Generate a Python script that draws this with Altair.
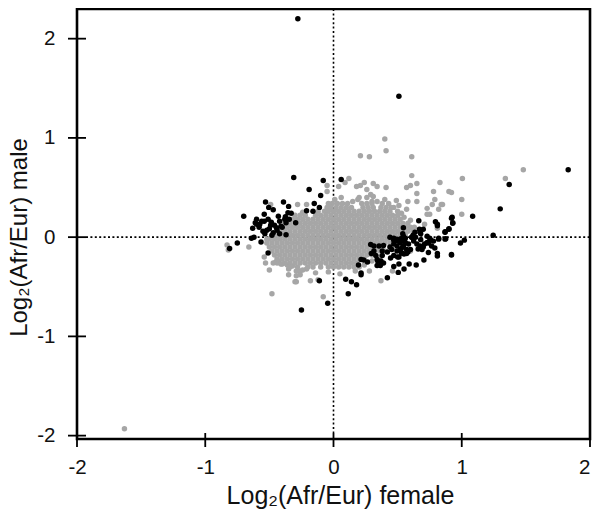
import altair as alt
import pandas as pd

# Log2(Afr/Eur) values: female, male
gray_outlier_female = [-1.63,-.83,-.82,-.66,-.54,-.53,-.50,-.48,-.08,.37,.05,-.35,-.29,-.26,-.29,-.26,-.30,-.29,-.18,-.14,-.12,-.21,-.45,-.43,-.36,-.35,-.32,-.47,-.44,-.41,-.04,.17,.28,.46,.60,
 1.48,1.34,1.005,.83,.90,.92,1.00,1.00,.40,.21,.28,.41,.61,.61,.12,-.05,.04,.09,.18,.21,.24,.31,.34,.41,.26,.57,.60,.65,.65,.65,.58,.57,.78,.79,.77,.84,.85,.73,.82,.73,.75,.71,.81,.01,-.05,.06,.29,.31,.19,.26,.30,.40,.49,.51,-.21,-.28,-.49,
 -.40,-.28,-.24,-.10,.20,.24,.30,.36,.15,.20,.34,.47,.53,.55,.60,-.12,-.24]
gray_outlier_male = [-1.93,-.08,-.13,-.10,-.20,-.26,-.33,-.57,-.60,-.44,-.37,-.38,-.34,-.34,-.39,-.38,-.45,-.45,-.44,-.36,-.43,-.32,-.25,-.24,-.28,-.32,-.29,-.26,-.26,-.27,-.35,-.34,-.34,-.34,-.14,
 .68,.59,.59,.55,.46,.45,.38,.23,.99,.82,.81,.87,.81,.62,.59,.52,.51,.55,.51,.52,.55,.54,.51,.50,.48,.50,.52,.54,.44,.36,.36,.28,.46,.38,.33,.33,.33,.29,.28,.23,.23,.13,.09,.38,.46,.40,.43,.41,.38,.40,.36,.38,.37,.32,.33,.33,.33,
 -.27,-.30,-.33,-.30,-.30,-.28,-.24,-.20,.36,.40,.36,.30,.24,.20,.17,.26,.25]

gray_cloud = {
 .34: [-.04,-.01,.03,.07,.11,.22,.26,.30,.38,.43],
 .30: [-.05,-.02,.02,.06,.10,.14,.23,.27,.31,.37,.41,.45],
 .26: [-.07,-.04,0,.04,.08,.12,.16,.20,.24,.28,.32,.36,.40,.44,.50],
 .22: [-.30,-.26,-.22,-.14,-.10,-.06,-.02,.02,.06,.10,.14,.18,.22,.26,.30,.34,.38,.42,.46,.50],
 .18: [-.36,-.32,-.28,-.24,-.20,-.16,-.12,-.08,-.04,0,.04,.08,.12,.16,.20,.24,.28,.32,.36,.40,.44,.48,.52],
 .14: [-.38,-.34,-.30,-.26,-.22,-.18,-.14,-.10,-.06,-.02,.02,.06,.10,.14,.18,.22,.26,.30,.34,.38,.42,.46,.50,.54,.58],
 .10: [-.40,-.36,-.32,-.28,-.24,-.20,-.16,-.12,-.08,-.04,0,.04,.08,.12,.16,.20,.24,.28,.32,.36,.40,.44,.48,.52,.56,.60,.63],
 .06: [-.42,-.38,-.34,-.30,-.26,-.22,-.18,-.14,-.10,-.06,-.02,.02,.06,.10,.14,.18,.22,.26,.30,.34,.38,.42,.46,.50,.54,.58,.62],
 .02: [-.48,-.44,-.40,-.36,-.32,-.28,-.24,-.20,-.16,-.12,-.08,-.04,0,.04,.08,.12,.16,.20,.24,.28,.32,.36,.40,.44,.48,.52,.56],
 -.02: [-.52,-.50,-.46,-.42,-.38,-.34,-.30,-.26,-.22,-.18,-.14,-.10,-.06,-.02,.02,.06,.10,.14,.18,.22,.26,.30,.34,.38,.42,.46,.50],
 -.06: [-.52,-.48,-.44,-.40,-.36,-.32,-.28,-.24,-.20,-.16,-.12,-.08,-.04,0,.04,.08,.12,.16,.20,.24,.28,.32,.36,.40,.44],
 -.10: [-.50,-.46,-.42,-.38,-.34,-.30,-.26,-.22,-.18,-.14,-.10,-.06,-.02,.02,.06,.10,.14,.18,.22,.26,.30,.34,.38],
 -.14: [-.48,-.44,-.40,-.36,-.32,-.28,-.24,-.20,-.16,-.12,-.08,-.04,0,.04,.08,.12,.16,.20,.24,.28,.32,.36,.40],
 -.18: [-.46,-.42,-.38,-.34,-.30,-.26,-.22,-.18,-.14,-.10,-.06,-.02,.02,.06,.10,.14,.18,.22,.26,.30],
 -.22: [-.44,-.40,-.36,-.32,-.28,-.24,-.20,-.16,-.12,-.08,-.04,0,.04,.08,.12,.16,.20,.24],
 -.26: [-.38,-.34,-.30,-.26,-.22,-.18,-.14,-.10,-.06,-.02,.02,.06,.10,.14,.18],
 -.30: [-.34,-.20,-.16,-.04,0,.04,.08,.12,.16],
}

black_female = [-.278,.51,1.83,1.37,1.30,1.085,1.245,1.02,.99,.92,.93,.90,.87,.87,.82,.92,.81,
 -.31,-.08,.06,-.19,-.10,-.15,-.11,-.16,-.21,-.70,-.53,-.39,-.35,-.505,-.47,-.54,-.43,-.355,-.375,-.33,-.60,-.61,-.63,
 -.54,-.575,-.51,-.485,-.42,-.41,-.445,-.50,-.535,-.47,-.42,-.37,-.295,-.345,-.37,-.64,-.62,-.565,-.75,-.81,-.51,
 -.25,-.045,.115,-.11,.095,.14,.18,.215,.215,.195,.42,.505,.55,.59,.645,.705,.92,.47,.51,
 .34,.365,.39,.345,.265,.235,.215,.29,.315,.355,.39,.295,.33,.38,.315,.38,.34,.37,
 .545,.665,.795,.81,.87,.90,.93,.925,.82,.875,.81,.81,.79,.765,.74,.69,.65,.625,.68,.73,.75,.78,.74,.64,.675,.70,.73,.675,.71,.61,
 .44,.47,.495,.54,.56,.52,.56,.585,.47,.495,.535,.57,.455,.495,.535,.57,.47,.51,.445,.545,.525,.60,.545,.52,.61,.635,.67,.68,
 -.58,-.56,-.52,-.49,-.46,-.44,-.40,-.38,-.60,-.55,-.48,.50,.53,.55,.58,.50,.52,.55,.47,.44,.42,.66,.70,.76,.62]
black_male = [2.2,1.42,.68,.53,.285,.21,.02,-.03,-.06,.19,.14,.08,.05,-.02,-.02,-.18,.13,
 .60,.57,.58,.48,.42,.34,.30,.26,.265,.21,.355,.355,.31,.30,.275,.23,.21,.245,.205,.24,.18,.145,.09,
 .16,.13,.18,.15,.16,.11,.095,.085,.035,.045,.035,.025,.145,.18,.145,-.01,0,-.05,-.06,-.115,-.16,
 -.735,-.665,-.57,-.44,-.425,-.45,-.48,-.36,-.38,-.28,-.41,-.355,-.32,-.27,-.28,-.23,-.175,-.295,-.27,
 -.285,-.285,-.26,-.24,-.25,-.23,-.225,-.075,-.09,-.09,-.085,-.165,-.185,-.185,-.14,-.14,-.225,-.24,
 .095,.165,.155,.115,.055,.085,.145,.20,-.01,-.015,-.165,-.19,-.11,-.09,-.155,-.125,-.07,-.04,-.025,.01,-.01,-.04,-.06,0,.05,.08,-.055,-.09,-.07,0,
 0,-.01,-.02,.035,-.01,-.055,-.055,-.07,-.07,-.09,-.105,-.125,-.125,-.14,-.16,-.165,-.185,-.20,-.21,.01,-.015,-.125,-.09,-.125,0,.05,.08,.035,
 .10,.16,.07,.12,.12,.07,.10,.18,.13,.06,.02,-.04,-.16,-.03,-.15,-.20,-.05,-.17,-.03,-.10,-.15,-.12,-.10,-.03,.02]

tick_values = [-2,-1,0,1,2]
x_domain = [-2,2]
y_domain = [-2.034,2.299]

gf = list(gray_outlier_female); gm = list(gray_outlier_male)
for m, fs in gray_cloud.items():
    gf += fs; gm += [m]*len(fs)
gray = pd.DataFrame({"f":gf,"m":gm})
black = pd.DataFrame({"f":black_female,"m":black_male})
ticks = pd.DataFrame({"t":tick_values})
zero = pd.DataFrame({"z":[0]})

FONT = "Liberation Sans"
xs = alt.Scale(domain=x_domain, nice=False, zero=False)
ys = alt.Scale(domain=y_domain, nice=False, zero=False)
x_axis = alt.Axis(values=tick_values, ticks=False, domain=False, grid=False, labelExpr="toString(datum.value)",
    labelAlign=alt.expr("datum.value == 2 ? 'right' : 'center'"),
    labelFont=FONT, labelFontSize=20.5, labelColor="#111", labelPadding=18, labelFlush=False,
    title="Log₂(Afr/Eur) female", titleFont=FONT, titleFontSize=25, titleFontWeight="normal", titleColor="#111",
    titleX=263, titleY=64, titleBaseline="alphabetic", titleAlign="center", titleAnchor="middle")
y_axis = alt.Axis(values=tick_values, ticks=False, domain=False, grid=False, labelExpr="toString(datum.value)",
    labelFont=FONT, labelFontSize=20.5, labelColor="#111", labelPadding=22, labelFlush=False,
    title="Log₂(Afr/Eur) male", titleFont=FONT, titleFontSize=24, titleFontWeight="normal", titleColor="#111",
    titleX=-51, titleY=228, titleBaseline="alphabetic", titleAlign="center", titleAnchor="middle")

h_zero = alt.Chart(zero).mark_rule(color="black", strokeWidth=1.6, strokeDash=[2,2.4]).encode(y=alt.Y("z:Q",scale=ys,axis=y_axis), x=alt.value(9), x2=alt.value(513))
v_zero = alt.Chart(zero).mark_rule(color="black", strokeWidth=1.6, strokeDash=[2,2.4]).encode(x=alt.X("z:Q",scale=xs,axis=x_axis), y=alt.value(0), y2=alt.value(424))
g = alt.Chart(gray).mark_circle(color="#a6a6a6", size=30, opacity=1).encode(x=alt.X("f:Q",scale=xs), y=alt.Y("m:Q",scale=ys))
b = alt.Chart(black).mark_circle(color="black", size=30, opacity=1).encode(x=alt.X("f:Q",scale=xs), y=alt.Y("m:Q",scale=ys))
xt = alt.Chart(ticks).mark_rule(color="black", strokeWidth=1.8).encode(x=alt.X("t:Q",scale=xs), y=alt.value(424), y2=alt.value(438))
yt = alt.Chart(ticks).mark_rule(color="black", strokeWidth=1.8).encode(y=alt.Y("t:Q",scale=ys), x=alt.value(-9), x2=alt.value(9))

chart = alt.layer(h_zero, v_zero, g, b, xt, yt).properties(
    width=513, height=430,
    autosize=alt.AutoSizeParams(type="none"),
    padding={"left":69,"right":2,"top":1,"bottom":70},
).configure_view(stroke="black", strokeWidth=2.6)
chart.save("out.html", embed_options={"renderer": "svg", "actions": False})
